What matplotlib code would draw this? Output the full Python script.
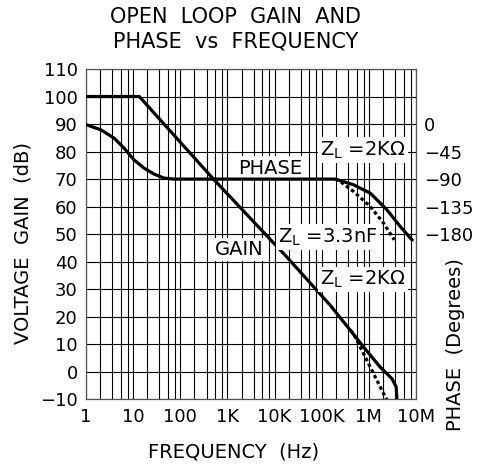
import numpy as np
import matplotlib
matplotlib.use("Agg")
import matplotlib.pyplot as plt
from matplotlib.ticker import FixedLocator, NullFormatter

# open loop gain (solid, ZL = 2K ohm)
gain_f = [1, 13.5, 505, 18.2e3, 151e3, 403e3, 771e3, 1.74e6, 3.09e6, 3.8e6, 3.95e6]
gain_db = [100, 100, 70, 41.7, 24.2, 15.1, 9.0, 1.7, -2.5, -5.5, -10]

# gain with ZL = 3.3nF (dashed)
gain_c_f = [403e3, 473e3, 771e3, 1.26e6, 2.05e6, 2.4e6]
gain_c_db = [15.1, 13.9, 6.6, -0.7, -7.9, -10]

# phase (solid, ZL = 2K ohm)
phase_f = [1, 2.05, 3.93, 6.41, 10.4, 17, 27.8, 45.3, 73.8, 194e3, 473e3, 1.07e6, 2.42e6, 4.64e6, 8.2e6]
phase_deg = [-1, -9.3, -22.9, -39.3, -58.4, -72, -81.8, -88.4, -90, -90, -99.3, -112.9, -140.2, -167.6, -189.3]

# phase with ZL = 3.3nF (dashed)
phase_c_f = [194e3, 247e3, 473e3, 1.07e6, 2.05e6, 3.46e6]
phase_c_deg = [-90, -93.8, -110.3, -134.8, -162, -189.3]

x_ticks = [1, 10, 100, 1e3, 1e4, 1e5, 1e6, 1e7]
x_labels = ["1", "10", "100", "1K", "10K", "100K", "1M", "10M"]
y_ticks = list(range(-10, 111, 10))
phase_ticks = [0, -45, -90, -135, -180]

fig = plt.figure(figsize=(4.81, 4.72), dpi=100)
ax = fig.add_axes([86 / 481, 1 - 399.3 / 472, 330 / 481, 330.3 / 472])

ax.set_xscale("log")
ax.set_xlim(1, 1e7)
ax.set_ylim(-10, 110)
ax.set_xticks(x_ticks)
ax.set_xticklabels(x_labels)
minor = [d * m for d in x_ticks[:-1] for m in (2, 3.6, 5.5, 7.7)]
ax.xaxis.set_minor_locator(FixedLocator(minor))
ax.xaxis.set_minor_formatter(NullFormatter())
ax.set_yticks(y_ticks)
ax.grid(True, which="both", color="black", lw=0.8)
ax.tick_params(which="both", length=0, labelsize=13, pad=6)
for s in ax.spines.values():
    s.set_linewidth(0.9)
    s.set_color("#555555")

ax.plot(gain_f, gain_db, color="black", lw=2.3, solid_joinstyle="round", zorder=5)
ax.plot(gain_c_f, gain_c_db, color="black", lw=2.3, ls=(0, (1.1, 0.9)), zorder=5)

ax2 = ax.twinx()
ax2.set_ylim((-10 - 90) * 4.5, (110 - 90) * 4.5)
ax2.set_yticks(phase_ticks)
ax2.tick_params(length=0, labelsize=13, pad=6)
for s in ax2.spines.values():
    s.set_visible(False)
ax2.plot(phase_f, phase_deg, color="black", lw=2.3, solid_joinstyle="round", zorder=5)
ax2.plot(phase_c_f, phase_c_deg, color="black", lw=2.3, ls=(0, (1.1, 0.9)), zorder=5)

box = dict(facecolor="white", edgecolor="none", pad=1.5)
ax.text(8.07e3, 74, "PHASE", fontsize=14, ha="center", va="center", bbox=box, zorder=6)
ax.text(1.77e3, 44.5, "GAIN", fontsize=14, ha="center", va="center", bbox=box, zorder=6)
ax.text(7.6e5, 80.5, r"Z$_\mathregular{L}$ =2KΩ", fontsize=14, ha="center", va="center", bbox=box, zorder=6)
ax.text(1.37e5, 48.9, r"Z$_\mathregular{L}$ =3.3nF", fontsize=14, ha="center", va="center", bbox=box, zorder=6)
ax.text(7.6e5, 33.6, r"Z$_\mathregular{L}$ =2KΩ", fontsize=14, ha="center", va="center", bbox=box, zorder=6)

fig.text(236 / 481, 1 - 17 / 472, "OPEN  LOOP  GAIN  AND", fontsize=15, ha="center", va="center")
fig.text(236 / 481, 1 - 42 / 472, "PHASE  vs  FREQUENCY", fontsize=15, ha="center", va="center")
fig.text(234 / 481, 1 - 452 / 472, "FREQUENCY  (Hz)", fontsize=14, ha="center", va="center")
fig.text(23 / 481, 1 - 242.5 / 472, "VOLTAGE  GAIN  (dB)", fontsize=14, ha="center", va="center", rotation=90)
fig.text(456 / 481, 1 - 345 / 472, "PHASE  (Degrees)", fontsize=14, ha="center", va="center", rotation=90)

fig.savefig("out.png", dpi=100)
